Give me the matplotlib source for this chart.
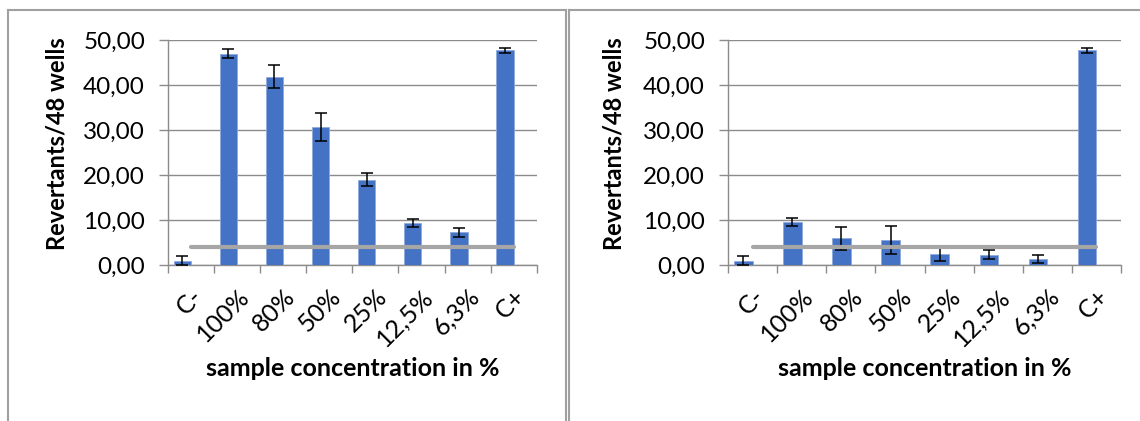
import numpy as np
import matplotlib.pyplot as plt
from matplotlib.lines import Line2D
from matplotlib.ticker import FuncFormatter, FixedLocator

plt.rcParams['font.family'] = ['Lato', 'DejaVu Sans']

categories = ['C-', '100%', '80%', '50%', '25%', '12,5%', '6,3%', 'C+']

left_vals = [0.9, 47.0, 41.8, 30.7, 19.0, 9.4, 7.3, 47.7]
left_err = [1.25, 0.9, 2.55, 3.2, 1.4, 0.95, 0.95, 0.5]

right_vals = [0.9, 9.6, 6.0, 5.7, 2.4, 2.35, 1.4, 47.7]
right_err = [1.25, 0.85, 2.5, 3.1, 1.35, 0.95, 0.95, 0.5]

threshold = 4.15

bar_color = '#4472C4'
grid_color = '#8c8c8c'
line_color = '#a6a6a6'

W, H = 1140, 421
fig = plt.figure(figsize=(W / 100, H / 100), dpi=100)


def draw_panel(ax, vals, errs, ylab_x):
    x = np.arange(len(categories))
    w = 0.38
    centers = x + 0.5 - w / 2
    ax.bar(x + 0.5 - w, vals, width=w, align='edge', color=bar_color,
           edgecolor='#8faadc', linewidth=0.6, zorder=3)
    lo = [min(e, v) for v, e in zip(vals, errs)]
    ax.errorbar(centers, vals, yerr=[lo, errs], fmt='none', ecolor='black',
                elinewidth=1.1, capsize=4, capthick=1.1, zorder=4)
    ax.plot([0.5, len(categories) - 0.5], [threshold, threshold],
            color=line_color, lw=3, solid_capstyle='round', zorder=5)
    ax.set_xlim(0, len(categories))
    ax.set_ylim(0, 50)
    ax.set_yticks(np.arange(0, 51, 10))
    ax.yaxis.set_major_formatter(FuncFormatter(lambda v, p: f'{v:.2f}'.replace('.', ',')))
    ax.yaxis.grid(True, color=grid_color, lw=1.0, zorder=0)
    ax.set_axisbelow(True)
    for s in ['top', 'right']:
        ax.spines[s].set_visible(False)
    for s in ['left', 'bottom']:
        ax.spines[s].set_color(grid_color)
        ax.spines[s].set_linewidth(1.0)
    ax.tick_params(axis='y', length=6.5, width=1.0, color=grid_color,
                   labelsize=17.5, pad=10)
    # category boundaries as ticks, labels at slot centres
    ax.xaxis.set_major_locator(FixedLocator(np.arange(len(categories) + 1)))
    ax.set_xticklabels([])
    ax.tick_params(axis='x', which='major', length=6, width=1.0, color=grid_color)
    ax.xaxis.set_minor_locator(FixedLocator(x + 0.5))
    ax.set_xticklabels(categories, minor=True, rotation=45, ha='right',
                       va='top', rotation_mode='anchor', fontsize=18)
    ax.tick_params(axis='x', which='minor', length=0, pad=14)
    ax.set_ylabel('Revertants/48 wells', fontsize=17, fontweight='bold')
    ax.yaxis.set_label_coords(ylab_x, 0.54)
    ax.set_xlabel('sample concentration in %', fontsize=18, fontweight='bold',
                  labelpad=5)


ax1 = fig.add_axes([168 / W, 1 - 265.3 / H, 368.7 / W, 225.3 / H])
draw_panel(ax1, left_vals, left_err, -0.27)
ax2 = fig.add_axes([728 / W, 1 - 265.3 / H, 393 / W, 225.3 / H])
draw_panel(ax2, right_vals, right_err, -0.262)

# chart frames
frame = dict(color='#a0a0a0', lw=1.5, transform=fig.transFigure)
fig.add_artist(Line2D([8 / W, 565.5 / W], [1 - 10 / H] * 2, **frame))
fig.add_artist(Line2D([8 / W] * 2, [0, 1 - 10 / H], **frame))
fig.add_artist(Line2D([565.5 / W] * 2, [0, 1 - 10 / H], **frame))
fig.add_artist(Line2D([568.5 / W, 1], [1 - 10 / H] * 2, **frame))
fig.add_artist(Line2D([568.5 / W] * 2, [0, 1 - 10 / H], **frame))

fig.savefig('out.png', dpi=100)
